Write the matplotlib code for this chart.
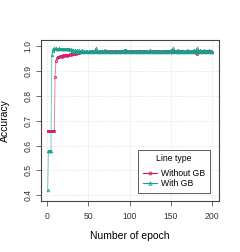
import matplotlib
matplotlib.use("Agg")
import matplotlib.pyplot as plt
from matplotlib.lines import Line2D

plt.rcParams['font.family'] = ['Liberation Sans', 'DejaVu Sans']

epochs = list(range(1, 201))

# accuracy per epoch
without_gb = [
    0.66, 0.66, 0.66, 0.66, 0.66, 0.66, 0.66, 0.66, 0.66, 0.873,
    0.94, 0.952, 0.955, 0.957, 0.955, 0.958, 0.96, 0.957, 0.96, 0.962,
    0.96, 0.962, 0.963, 0.961, 0.964, 0.963, 0.965, 0.966, 0.964, 0.967,
    0.968, 0.966, 0.969, 0.97, 0.968, 0.971, 0.972, 0.97, 0.973, 0.974,
    0.975, 0.974, 0.976, 0.975, 0.977, 0.976, 0.975, 0.977, 0.976, 0.975,
    0.977, 0.976, 0.978, 0.975, 0.977, 0.976, 0.978, 0.977, 0.976, 0.978,
    0.977, 0.976, 0.978, 0.977, 0.975, 0.978, 0.977, 0.976, 0.978, 0.977,
    0.976, 0.978, 0.977, 0.979, 0.976, 0.978, 0.977, 0.976, 0.978, 0.977,
    0.975, 0.978, 0.977, 0.979, 0.976, 0.978, 0.977, 0.976, 0.979, 0.977,
    0.978, 0.977, 0.979, 0.976, 0.978, 0.977, 0.979, 0.976, 0.978, 0.977,
    0.976, 0.978, 0.977, 0.979, 0.976, 0.978, 0.977, 0.975, 0.978, 0.977,
    0.979, 0.976, 0.978, 0.977, 0.976, 0.978, 0.977, 0.979, 0.976, 0.978,
    0.977, 0.975, 0.978, 0.977, 0.979, 0.976, 0.978, 0.977, 0.976, 0.978,
    0.977, 0.979, 0.976, 0.978, 0.977, 0.976, 0.978, 0.977, 0.975, 0.978,
    0.977, 0.979, 0.976, 0.978, 0.977, 0.976, 0.978, 0.977, 0.979, 0.976,
    0.978, 0.977, 0.975, 0.978, 0.977, 0.979, 0.976, 0.978, 0.977, 0.976,
    0.978, 0.977, 0.979, 0.976, 0.978, 0.977, 0.975, 0.978, 0.977, 0.979,
    0.976, 0.978, 0.977, 0.976, 0.978, 0.977, 0.979, 0.976, 0.978, 0.97,
    0.968, 0.977, 0.979, 0.976, 0.978, 0.977, 0.975, 0.978, 0.977, 0.979,
    0.976, 0.978, 0.977, 0.976, 0.978, 0.977, 0.979, 0.976, 0.978, 0.977,
]

with_gb = [
    0.42, 0.578, 0.578, 0.578, 0.578, 0.965, 0.978, 0.986, 0.99, 0.988,
    0.99, 0.987, 0.989, 0.988, 0.99, 0.986, 0.988, 0.989, 0.987, 0.988,
    0.986, 0.988, 0.987, 0.989, 0.986, 0.988, 0.987, 0.985, 0.986, 0.984,
    0.978, 0.983, 0.976, 0.985, 0.978, 0.976, 0.982, 0.977, 0.984, 0.976,
    0.979, 0.976, 0.983, 0.977, 0.978, 0.976, 0.979, 0.977, 0.978, 0.976,
    0.978, 0.977, 0.979, 0.976, 0.978, 0.977, 0.976, 0.979, 0.99, 0.978,
    0.977, 0.976, 0.978, 0.977, 0.979, 0.976, 0.978, 0.977, 0.976, 0.985,
    0.977, 0.979, 0.976, 0.978, 0.977, 0.976, 0.978, 0.977, 0.979, 0.976,
    0.978, 0.977, 0.976, 0.979, 0.977, 0.978, 0.976, 0.977, 0.979, 0.976,
    0.978, 0.977, 0.982, 0.976, 0.985, 0.983, 0.977, 0.979, 0.976, 0.978,
    0.977, 0.976, 0.978, 0.977, 0.979, 0.976, 0.978, 0.977, 0.976, 0.978,
    0.977, 0.979, 0.976, 0.978, 0.977, 0.976, 0.978, 0.977, 0.979, 0.976,
    0.978, 0.977, 0.976, 0.978, 0.982, 0.977, 0.979, 0.976, 0.978, 0.977,
    0.976, 0.978, 0.977, 0.979, 0.976, 0.978, 0.977, 0.976, 0.978, 0.977,
    0.979, 0.976, 0.978, 0.977, 0.976, 0.978, 0.977, 0.979, 0.976, 0.984,
    0.977, 0.99, 0.976, 0.978, 0.977, 0.979, 0.976, 0.985, 0.977, 0.976,
    0.978, 0.977, 0.979, 0.976, 0.978, 0.977, 0.976, 0.978, 0.977, 0.983,
    0.976, 0.978, 0.977, 0.979, 0.976, 0.978, 0.977, 0.985, 0.976, 0.978,
    0.99, 0.977, 0.979, 0.976, 0.984, 0.977, 0.976, 0.978, 0.977, 0.983,
    0.976, 0.978, 0.977, 0.979, 0.976, 0.982, 0.977, 0.976, 0.978, 0.977,
]

series_names = ['Without GB', 'With GB']
pink = '#d81b6a'
teal = '#17a08c'

fig = plt.figure(figsize=(2.4, 2.52), dpi=100)
ax = fig.add_axes([0.171, 0.202, 0.741, 0.639])

ax.plot(epochs, without_gb, color=pink, lw=0.7, alpha=0.55)
ax.plot(epochs, without_gb, ls='none', marker='o', ms=1.6, mfc='none',
        mec=pink, mew=0.6)
ax.plot(epochs, with_gb, color=teal, lw=0.7, alpha=0.55)
ax.plot(epochs, with_gb, ls='none', marker='^', ms=1.8, mfc='none',
        mec=teal, mew=0.6)

ax.set_xlim(-7, 208)
ax.set_ylim(0.377, 1.023)
ax.set_xticks([0, 50, 100, 150, 200])
ax.set_yticks([0.4, 0.5, 0.6, 0.7, 0.8, 0.9, 1.0])
ax.set_yticklabels(['0.4', '0.5', '0.6', '0.7', '0.8', '0.9', '1.0'],
                   rotation=90, va='center')
ax.tick_params(labelsize=6.2, length=3.6, width=0.5, colors='#333333')
ax.tick_params(axis='x', pad=4.5)
ax.tick_params(axis='y', pad=2.5)
ax.grid(True, color='#d9d9d9', ls=':', lw=0.6)
ax.set_axisbelow(True)
for s in ax.spines.values():
    s.set_color('#444444')
    s.set_linewidth(0.8)

ax.set_xlabel('Number of epoch', fontsize=7.5, labelpad=7)
ax.set_ylabel('Accuracy', fontsize=7.5, labelpad=10)

handles = [
    Line2D([], [], color=pink, lw=0.8, marker='o', ms=2.2, mfc='none', mew=0.6),
    Line2D([], [], color=teal, lw=0.8, marker='^', ms=2.4, mfc='none', mew=0.6),
]
leg = ax.legend(handles, series_names, title='Line type', loc='lower right',
                bbox_to_anchor=(210 / 240, 1 - 193 / 252),
                bbox_transform=fig.transFigure, borderaxespad=0,
                fontsize=6.2, title_fontsize=6.2,
                frameon=True, fancybox=False, handlelength=1.6,
                borderpad=0.55, labelspacing=0.15, handletextpad=0.5)
leg.get_frame().set_edgecolor('#333333')
leg.get_frame().set_linewidth(0.7)
leg._legend_box.sep = 4

fig.savefig('out.png', dpi=100)
